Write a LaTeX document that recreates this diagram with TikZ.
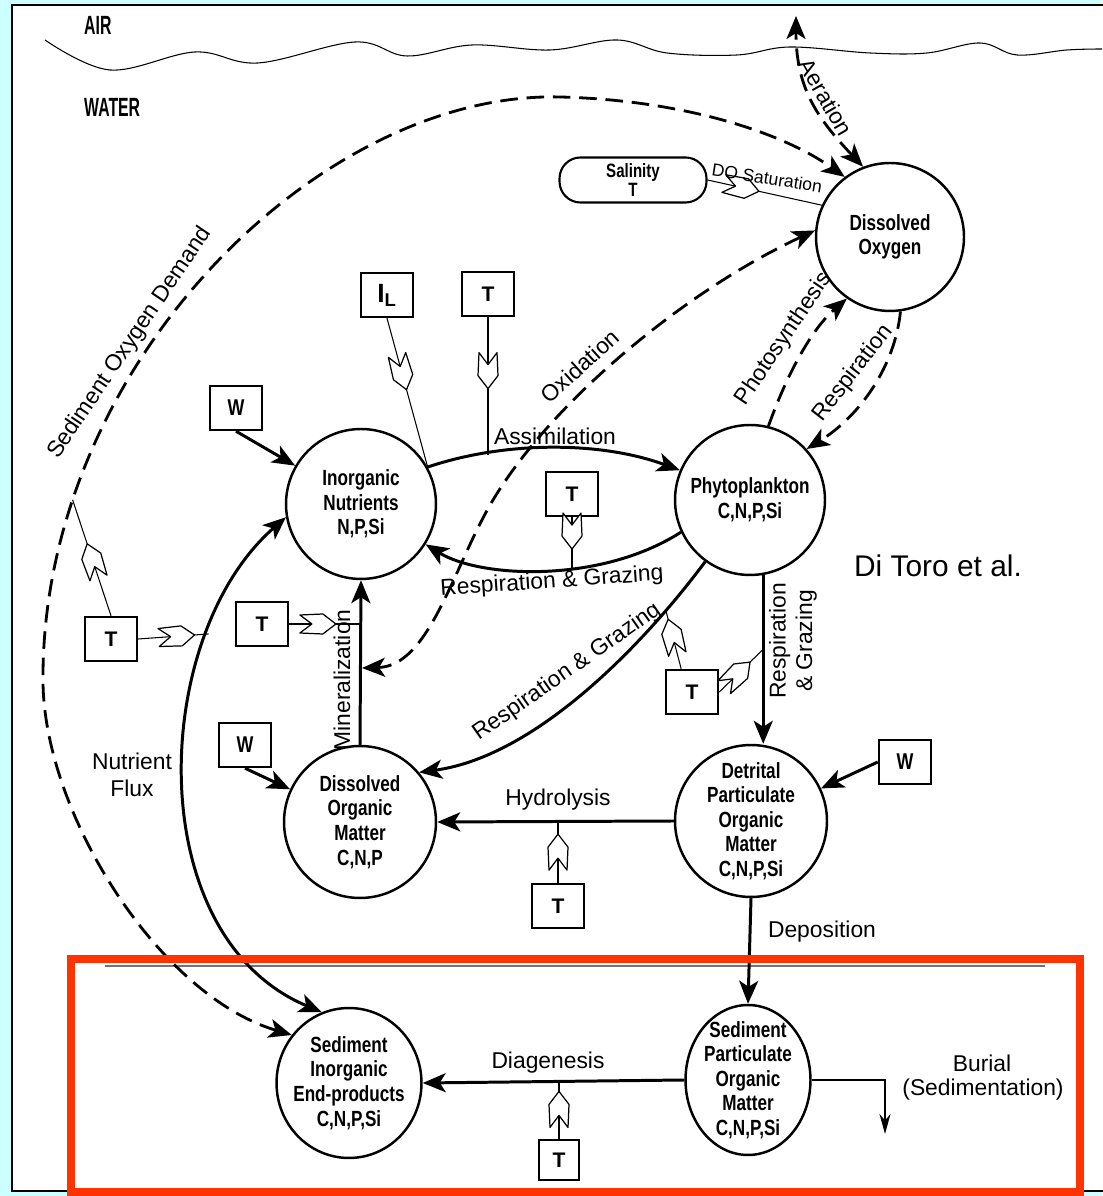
\documentclass[tikz,border=0pt]{standalone}
\usepackage{fontspec}
\setmainfont{Liberation Sans}
\newfontfamily\condfont[FakeStretch=0.78]{Liberation Sans}
\newfontfamily\narrowfont[FakeStretch=0.6]{Liberation Sans}
\usepackage{xcolor}
\usepackage{tikz}
\usetikzlibrary{arrows.meta,decorations.markings,shapes.geometric}
\definecolor{panelcyan}{RGB}{204,255,255}
\definecolor{framered}{RGB}{255,51,0}

\begin{document}
\begin{tikzpicture}[x=0.02cm, y=0.02cm,
    >={Stealth[length=4.6mm,width=3.8mm,inset=1.2mm]},
    pooltext/.style={align=center, font=\condfont\bfseries\fontsize{12.5}{14}\selectfont},
    pool/.style={circle, draw, line width=1.4pt, inner sep=0pt, minimum size=3cm, pooltext},
    sedpool/.style={pool, ellipse},
    forcing/.style={draw, line width=1.4pt, minimum width=1.04cm, minimum height=0.88cm, inner sep=0pt, font=\bfseries\fontsize{12}{12}\selectfont},
    wbox/.style={forcing, font=\condfont\bfseries\fontsize{13}{12}\selectfont},
    flux/.style={->, line width=1.7pt},
    oxflux/.style={line width=1.6pt, dash pattern=on 10pt off 5pt},
    lbl/.style={font=\fontsize{13}{15}\selectfont, inner sep=1pt},
    tlink/.style={line width=0.6pt, postaction={decorate},
      decoration={markings, mark=at position #1 with {
        \draw[fill=white, line width=0.7pt, line join=round]
          (0,0) -- (-13,10) -- (-36,9) -- (-24,0) -- (-36,-9) -- (-13,-10) -- cycle;}}}]
                % panel
                \useasboundingbox (0,0) rectangle (1102,1196);
                \fill[panelcyan] (0,0) rectangle (1102,1196);
                \draw[line width=1.4pt, fill=white] (12,5) rectangle (1130,1191);

                % air-water surface
                \draw[line width=0.6pt] plot[smooth, tension=0.6] coordinates {(45,1156) (110,1126) (195,1144) (258,1133) (355,1154) (407,1140) (472,1151) (550,1146) (617,1156) (667,1143) (737,1141) (790,1149) (870,1143) (927,1143) (980,1153) (1017,1141) (1067,1146) (1102,1147)};
                \node[font=\narrowfont\bfseries\fontsize{15}{15}\selectfont, anchor=west] (air) at (78,1171) {AIR};
                \node[font=\narrowfont\bfseries\fontsize{15}{15}\selectfont, anchor=west] (water) at (78,1089) {WATER};

                % sediment-water interface
                \draw[black!55, line width=1.4pt] (105,230) -- (1045,230);

                % state variables
                \node[pool, minimum size=2.96cm] (do) at (890,959) {Dissolved\\Oxygen};
                \node[pool] (in) at (361,692) {Inorganic\\Nutrients\\N,P,Si};
                \node[pool] (phy) at (750,696) {Phytoplankton\\C,N,P,Si};
                \node[pool, minimum size=3.04cm] (dom) at (360,374) {Dissolved\\Organic\\Matter\\C,N,P};
                \node[pool, minimum size=3.04cm] (dpom) at (751,375) {Detrital\\Particulate\\Organic\\Matter\\C,N,P,Si};
                \node[sedpool, minimum width=2.9cm, minimum height=3cm,
                  label={[pooltext]center:{Sediment\\Inorganic\\End-products\\C,N,P,Si}}] (sin) at (349,113) {};
                \node[sedpool, minimum width=2.5cm, minimum height=3cm,
                  label={[pooltext]center:{Sediment\\Particulate\\Organic\\Matter\\C,N,P,Si}}] (spom) at (748,116) {};

                % salinity
                \node[draw, line width=1.2pt, rounded corners=0.42cm, minimum width=2.94cm, minimum height=0.88cm,
                  align=center, font=\condfont\bfseries\fontsize{11}{11}\selectfont] (sal) at (633,1016) {Salinity\\T};

                % forcing boxes
                \node[wbox] (win) at (236,788) {W};
                \node[wbox] (wdom) at (245,451) {W};
                \node[wbox] (wdpom) at (905,434) {W};
                \node[forcing, font=\bfseries\fontsize{15}{15}\selectfont] (til) at (387,901) {I\textsubscript{L}};
                \node[forcing] (ta) at (488,902) {T};
                \node[forcing] (tr) at (572,702) {T};
                \node[forcing] (tf) at (111,557) {T};
                \node[forcing] (tm) at (262,572) {T};
                \node[forcing] (tg) at (692,504) {T};
                \node[forcing] (th) at (558,290) {T};
                \node[forcing, minimum width=0.8cm, minimum height=0.8cm, line width=1pt] (td) at (559,36) {T};

                % loads
                \draw[flux] (win.south) -- (in);
                \draw[flux] (wdom.south) -- (dom);
                \draw[flux] (wdpom.west) -- (dpom);

                % kinetic fluxes
                \draw[flux] (in.29) .. controls (505,755) and (600,755) .. (phy.157) coordinate[pos=0.2] (asm1);
                \draw[flux] (phy.205) .. controls (600,612) and (480,618) .. (in.328) coordinate[pos=0.4] (rg1);
                \draw[flux] (phy.234) .. controls (650,560) and (540,440) .. (dom.40) coordinate[pos=0.2] (rg2);
                \draw[flux] (phy.-80) -- (phy.-80 |- dpom.north) coordinate[pos=0.44] (rg3);
                \draw[flux] (dpom.west) -- (dom.east);
                \draw[flux] (dom.north) -- (in.south);
                \draw[flux] (dpom.south) -- (spom.north);
                \draw[flux] (spom.west) -- (sin.east);
                \coordinate (burial) at (885,62);
                \draw[-{Stealth[length=4mm,width=2.2mm]}, line width=1.2pt] (spom.east) -| (burial);
                \draw[flux, <->] (in.190) .. controls (150,560) and (140,260) .. (sin.111) coordinate[pos=0.25] (nf1);

                % oxygen fluxes
                \draw[oxflux, <->] (sin.140) .. controls (160,200) and (45,380) .. (43,513)
                  .. controls (40,830) and (320,1105) .. (560,1099) coordinate[pos=0.2] (sod1)
                  .. controls (680,1096) and (780,1065) .. (do.127);
                \coordinate (airtop) at (796,1180);
                \draw[oxflux, <->] (do.111) .. controls (815,1080) and (796,1110) .. (airtop);
                \coordinate (oxend) at (362,528);
                \draw[oxflux, <->] (do.175) .. controls (687,906) and (553,796) .. (493,696)
                  .. controls (453,629) and (430,530) .. (oxend);
                \draw[oxflux, ->] (phy.76) .. controls (790,830) and (815,870) .. (do.235);
                \draw[oxflux, ->] (do.278) .. controls (895,830) and (860,780) .. (phy.42);

                % temperature, light and salinity effects
                \draw[tlink=0.45] (sal.east) -- (do.155);
                \draw[tlink=0.48] (til.south) -- (in.29);
                \draw[tlink=0.52] (ta.south) -- (ta.south |- asm1);
                \draw[tlink=0.62] (tr.south) -- (tr.south |- rg1);
                \draw[tlink=0.8] (tf.east) -- (nf1);
                \draw[tlink=0.62] (tf.north) -- (sod1);
                \draw[tlink=0.65] (tm.east) -- (tm.east -| in.south);
                \draw[tlink=0.85] (tg.115) -- (rg2);
                \draw[tlink=0.7] (tg.east) -- (rg3);
                \draw[tlink=0.8] (th.north) -- (th.north |- dom.east);
                \draw[tlink=0.85] (td.north) -- (td.north |- sin.east);

                % labels
                \node[lbl] (assimlbl) at (555,760) {Assimilation};
                \node[lbl, rotate=4] (rglbl1) at (552,614) {Respiration \& Grazing};
                \node[lbl, rotate=35] (rglbl2) at (567,524) {Respiration \& Grazing};
                \node[lbl, rotate=90, align=center] (rglbl3) at (793,555) {Respiration\\\& Grazing};
                \node[lbl] (hydlbl) at (558,396) {Hydrolysis};
                \node[lbl, rotate=90] (minlbl) at (342,516) {Mineralization};
                \node[lbl] (deplbl) at (822,264) {Deposition};
                \node[lbl] (diaglbl) at (548,133) {Diagenesis};
                \node[lbl] (burlbl) at (982,133) {Burial};
                \node[lbl] (sedlbl) at (983,106) {(Sedimentation)};
                \node[lbl, align=center] (nflbl) at (132,421) {Nutrient\\Flux};
                \node[lbl, rotate=56] (sodlbl) at (130,853) {Sediment Oxygen Demand};
                \node[lbl, rotate=-60] (aerlbl) at (826,1099) {Aeration};
                \node[lbl, rotate=42] (oxlbl) at (580,830) {Oxidation};
                \node[lbl, rotate=56] (photlbl) at (784,857) {Photosynthesis};
                \node[lbl, rotate=52] (resplbl) at (853,823) {Respiration};
                \node[font=\fontsize{10}{12}\selectfont, rotate=-9] (dosatlbl) at (767,1018) {DO Saturation};
                \node[font=\fontsize{17}{20}\selectfont] (credit) at (938,630) {Di Toro et al.};

                % sediment box
                \draw[framered, line width=4.5pt] (71,4) rectangle (1080,237);
            \end{tikzpicture}
\end{document}
